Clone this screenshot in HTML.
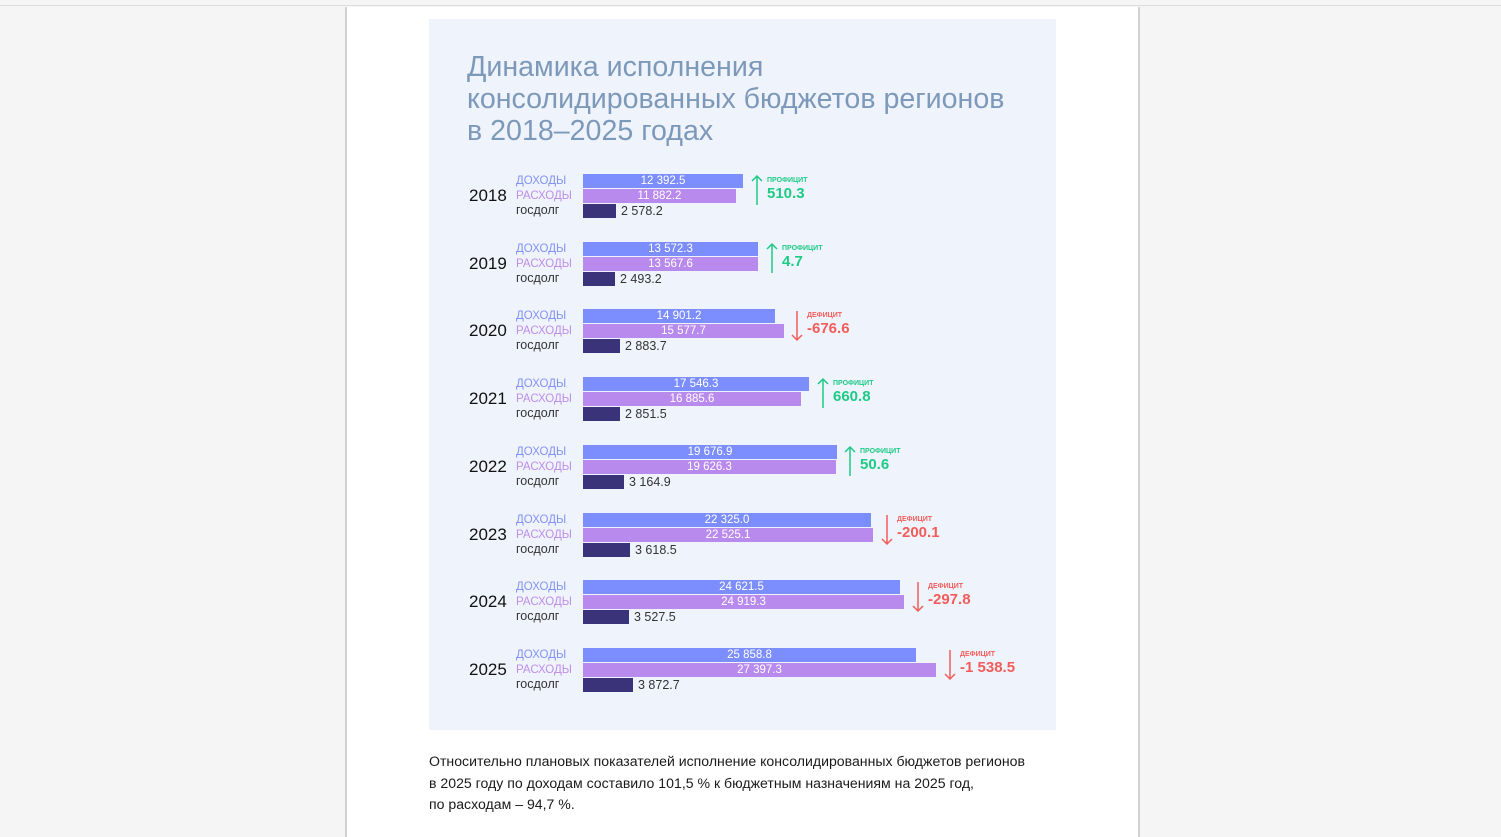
<!DOCTYPE html>
<html><head><meta charset="utf-8"><style>
*{margin:0;padding:0;box-sizing:border-box}
body{width:1501px;height:829px;background:#f5f5f5;position:relative;overflow:hidden;font-family:"Liberation Sans","DejaVu Sans",sans-serif}
.top{position:absolute;left:0;top:0;width:1501px;height:6px;background:#f5f5f5;border-bottom:1px solid #ddd}
.page{position:absolute;left:345px;top:7px;width:795px;height:830px;background:#fff;border-left:2px solid #d2d2d2;border-right:2px solid #d2d2d2}
.card{position:absolute;left:429px;top:19px;width:627px;height:711px;background:#eff3fb}
.title{position:absolute;left:467px;top:51px;font-size:28.6px;line-height:32px;color:#7d99ba;white-space:nowrap}
.r{position:absolute;left:0;width:1501px;height:40px}
.y{position:absolute;left:469px;top:12px;font-size:17px;line-height:20px;color:#111}
.l{position:absolute;left:516px;font-size:11.5px;line-height:14px;white-space:nowrap}
.l1{top:0px;color:#8393f5}.l2{top:15px;color:#bd8fe8}.l3{top:29px;color:#333;font-size:12.5px}
.b{position:absolute;left:583px;height:14px;color:#fff;font-size:11.5px;line-height:14px;text-align:center;white-space:nowrap}
.b1{top:0;background:#7c8dfd}.b2{top:15px;background:#b98aee}.b3{top:30px;background:#3b3379}
.dv{position:absolute;top:30px;font-size:12.5px;line-height:14px;color:#333}
.s{position:absolute;top:3px;font-size:7px;font-weight:bold;line-height:8px}
.v{position:absolute;top:11px;font-size:15px;font-weight:bold;line-height:18px}
.g{color:#1dcb85}.rd{color:#f25c5a}
svg{position:absolute;top:0}
.txt{position:absolute;left:429px;top:751px;font-size:14.1px;line-height:21.5px;color:#1a1a1a}
</style></head><body>
<div class="top"></div>
<div class="page"></div>
<div class="card"></div>
<div class="title">Динамика исполнения<br>консолидированных бюджетов регионов<br>в 2018–2025 годах</div>

<div class="r" style="top:174px"><div class="y">2018</div><div class="l l1">ДОХОДЫ</div><div class="l l2">РАСХОДЫ</div><div class="l l3">госдолг</div>
<div class="b b1" style="width:160px">12 392.5</div><div class="b b2" style="width:153px">11 882.2</div><div class="b b3" style="width:33px"></div><div class="dv" style="left:621px">2 578.2</div>
<svg style="left:750px" width="14" height="34"><path d="M7 2V31M2 7L7 2L12 7" stroke="#1dcb85" stroke-width="1.5" fill="none"/></svg>
<div class="s g" style="left:767px">ПРОФИЦИТ</div><div class="v g" style="left:767px">510.3</div></div>

<div class="r" style="top:242px"><div class="y">2019</div><div class="l l1">ДОХОДЫ</div><div class="l l2">РАСХОДЫ</div><div class="l l3">госдолг</div>
<div class="b b1" style="width:175px">13 572.3</div><div class="b b2" style="width:175px">13 567.6</div><div class="b b3" style="width:32px"></div><div class="dv" style="left:620px">2 493.2</div>
<svg style="left:765px" width="14" height="34"><path d="M7 2V31M2 7L7 2L12 7" stroke="#1dcb85" stroke-width="1.5" fill="none"/></svg>
<div class="s g" style="left:782px">ПРОФИЦИТ</div><div class="v g" style="left:782px">4.7</div></div>

<div class="r" style="top:309px"><div class="y">2020</div><div class="l l1">ДОХОДЫ</div><div class="l l2">РАСХОДЫ</div><div class="l l3">госдолг</div>
<div class="b b1" style="width:192px">14 901.2</div><div class="b b2" style="width:201px">15 577.7</div><div class="b b3" style="width:37px"></div><div class="dv" style="left:625px">2 883.7</div>
<svg style="left:790px" width="14" height="34"><path d="M7 2V31M2 26L7 31L12 26" stroke="#f25c5a" stroke-width="1.5" fill="none"/></svg>
<div class="s rd" style="left:807px">ДЕФИЦИТ</div><div class="v rd" style="left:807px">-676.6</div></div>

<div class="r" style="top:377px"><div class="y">2021</div><div class="l l1">ДОХОДЫ</div><div class="l l2">РАСХОДЫ</div><div class="l l3">госдолг</div>
<div class="b b1" style="width:226px">17 546.3</div><div class="b b2" style="width:218px">16 885.6</div><div class="b b3" style="width:37px"></div><div class="dv" style="left:625px">2 851.5</div>
<svg style="left:816px" width="14" height="34"><path d="M7 2V31M2 7L7 2L12 7" stroke="#1dcb85" stroke-width="1.5" fill="none"/></svg>
<div class="s g" style="left:833px">ПРОФИЦИТ</div><div class="v g" style="left:833px">660.8</div></div>

<div class="r" style="top:445px"><div class="y">2022</div><div class="l l1">ДОХОДЫ</div><div class="l l2">РАСХОДЫ</div><div class="l l3">госдолг</div>
<div class="b b1" style="width:254px">19 676.9</div><div class="b b2" style="width:253px">19 626.3</div><div class="b b3" style="width:41px"></div><div class="dv" style="left:629px">3 164.9</div>
<svg style="left:843px" width="14" height="34"><path d="M7 2V31M2 7L7 2L12 7" stroke="#1dcb85" stroke-width="1.5" fill="none"/></svg>
<div class="s g" style="left:860px">ПРОФИЦИТ</div><div class="v g" style="left:860px">50.6</div></div>

<div class="r" style="top:513px"><div class="y">2023</div><div class="l l1">ДОХОДЫ</div><div class="l l2">РАСХОДЫ</div><div class="l l3">госдолг</div>
<div class="b b1" style="width:288px">22 325.0</div><div class="b b2" style="width:290px">22 525.1</div><div class="b b3" style="width:47px"></div><div class="dv" style="left:635px">3 618.5</div>
<svg style="left:880px" width="14" height="34"><path d="M7 2V31M2 26L7 31L12 26" stroke="#f25c5a" stroke-width="1.5" fill="none"/></svg>
<div class="s rd" style="left:897px">ДЕФИЦИТ</div><div class="v rd" style="left:897px">-200.1</div></div>

<div class="r" style="top:580px"><div class="y">2024</div><div class="l l1">ДОХОДЫ</div><div class="l l2">РАСХОДЫ</div><div class="l l3">госдолг</div>
<div class="b b1" style="width:317px">24 621.5</div><div class="b b2" style="width:321px">24 919.3</div><div class="b b3" style="width:46px"></div><div class="dv" style="left:634px">3 527.5</div>
<svg style="left:911px" width="14" height="34"><path d="M7 2V31M2 26L7 31L12 26" stroke="#f25c5a" stroke-width="1.5" fill="none"/></svg>
<div class="s rd" style="left:928px">ДЕФИЦИТ</div><div class="v rd" style="left:928px">-297.8</div></div>

<div class="r" style="top:648px"><div class="y">2025</div><div class="l l1">ДОХОДЫ</div><div class="l l2">РАСХОДЫ</div><div class="l l3">госдолг</div>
<div class="b b1" style="width:333px">25 858.8</div><div class="b b2" style="width:353px">27 397.3</div><div class="b b3" style="width:50px"></div><div class="dv" style="left:638px">3 872.7</div>
<svg style="left:943px" width="14" height="34"><path d="M7 2V31M2 26L7 31L12 26" stroke="#f25c5a" stroke-width="1.5" fill="none"/></svg>
<div class="s rd" style="left:960px">ДЕФИЦИТ</div><div class="v rd" style="left:960px">-1 538.5</div></div>

<div class="txt">Относительно плановых показателей исполнение консолидированных бюджетов регионов<br>в 2025 году по доходам составило 101,5 % к бюджетным назначениям на 2025 год,<br>по расходам – 94,7 %.</div>
</body></html>
